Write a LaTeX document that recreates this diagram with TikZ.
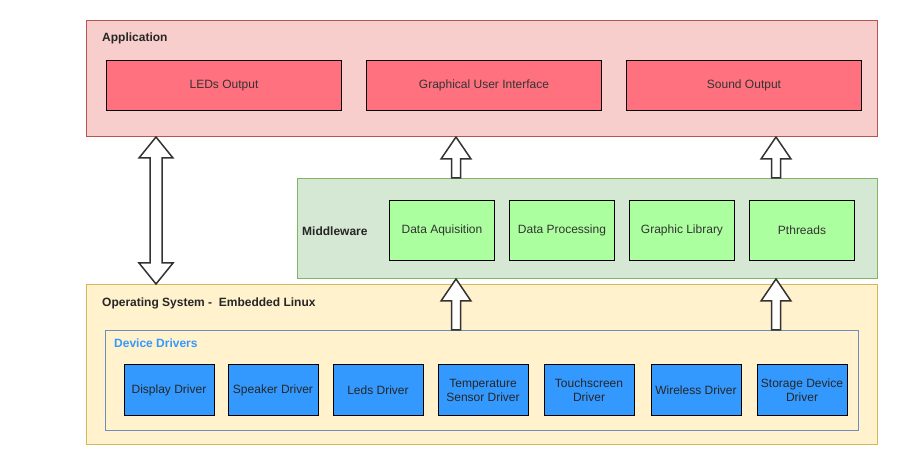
\documentclass[tikz,border=0pt]{standalone}
\usepackage{fontspec}
\setmainfont{Liberation Sans}
\usetikzlibrary{positioning, calc}

\definecolor{AppFill}{HTML}{F8CECC}
\definecolor{AppLine}{HTML}{B85450}
\definecolor{AppBox}{RGB}{255, 113, 127}
\definecolor{MwFill}{HTML}{D5E8D4}
\definecolor{MwLine}{HTML}{82B366}
\definecolor{MwBox}{RGB}{172, 255, 158}
\definecolor{OsFill}{HTML}{FFF2CC}
\definecolor{OsLine}{HTML}{D6B656}
\definecolor{DrvLine}{HTML}{6C8EBF}
\definecolor{DrvBlue}{HTML}{3399FF}
\definecolor{ArrowLine}{HTML}{333333}

% hollow block arrow pointing up, #1 = foot, #2 = tip
\newcommand{\upblock}[2]{%
  \draw[blockarrow] let \p1=(#1), \p2=(#2) in
    ({\x1-4.5pt},\y1) -- ({\x1-4.5pt},{\y2-22pt}) -- ({\x1-15pt},{\y2-22pt}) -- (\x1,\y2)
    -- ({\x1+15pt},{\y2-22pt}) -- ({\x1+4.5pt},{\y2-22pt}) -- ({\x1+4.5pt},\y1) -- cycle;}
% hollow block arrow with two heads, #1 = upper tip, #2 = lower tip
\newcommand{\dblblock}[2]{%
  \draw[blockarrow] let \p1=(#1), \p2=(#2) in
    (\x1,\y1) -- ({\x1+17pt},{\y1-21pt}) -- ({\x1+6pt},{\y1-21pt}) -- ({\x1+6pt},{\y2+21pt})
    -- ({\x1+17pt},{\y2+21pt}) -- (\x1,\y2) -- ({\x1-17pt},{\y2+21pt}) -- ({\x1-6pt},{\y2+21pt})
    -- ({\x1-6pt},{\y1-21pt}) -- ({\x1-17pt},{\y1-21pt}) -- cycle;}

\begin{document}
\begin{tikzpicture}[
    x=1pt, y=-1pt,
    every node/.style={font=\fontsize{12}{14}\selectfont, align=center, inner sep=0pt},
    layer/.style={draw, line width=1pt, anchor=north west},
    title/.style={anchor=west, font=\fontsize{12}{14}\selectfont\bfseries, text=black!85},
    appbox/.style={draw=black, fill=AppBox, line width=1pt, anchor=north west,
                minimum width=235pt, minimum height=50pt, text=black!80},
    mwbox/.style={draw=black, fill=MwBox, line width=1pt, anchor=north west,
                minimum width=105pt, minimum height=60pt, text=black!80},
    drvbox/.style={draw=black, fill=DrvBlue, line width=1pt, outer sep=0pt,
                minimum width=90pt, minimum height=50pt, text=black!85},
    blockarrow/.style={draw=ArrowLine, fill=white, line width=1.5pt, line join=miter}
]
\useasboundingbox[fill=white] (0,0) rectangle (898,465);

% layers
\node[layer, draw=AppLine, fill=AppFill, minimum width=791pt, minimum height=116pt] (app) at (86,20) {};
\node[layer, draw=MwLine, fill=MwFill, minimum width=580pt, minimum height=100pt] (mw) at (297,178) {};
\node[layer, draw=OsLine, fill=OsFill, minimum width=791pt, minimum height=160pt] (os) at (86,284) {};
\node[layer, draw=DrvLine, minimum width=753pt, minimum height=100pt] (dd) at (105,330) {};

\node[title] (apptitle) at (102,38) {Application};
\node[title] (mwtitle) at (302,231) {Middleware};
\node[title] (ostitle) at (102,303) {Operating System -~~Embedded Linux};
\node[title, text=DrvBlue] (ddtitle) at (114,343) {Device Drivers};

% application
\node[appbox] (leds) at (106,60) {LEDs Output};
\node[appbox] (gui) at (366,60) {Graphical User Interface};
\node[appbox] (sound) at (626,60) {Sound Output};

% middleware
\node[mwbox] (daq) at (389,200) {Data Aquisition};
\node[mwbox] (dproc) at (509,200) {Data Processing};
\node[mwbox] (glib) at (629,200) {Graphic Library};
\node[mwbox] (pthr) at (749,200) {Pthreads};

% drivers
\node[drvbox] (disp) at (169,390) {Display Driver};
\node[drvbox, right=14pt of disp] (spk) {Speaker Driver};
\node[drvbox, right=15pt of spk] (ledd) {Leds Driver};
\node[drvbox, right=15pt of ledd] (temp) {Temperature\\Sensor Driver};
\node[drvbox, right=16pt of temp] (touch) {Touchscreen\\Driver};
\node[drvbox, right=17pt of touch] (wifi) {Wireless Driver};
\node[drvbox, right=16pt of wifi] (stor) {Storage Device\\Driver};

% arrows
\coordinate (xl) at (156,0);
\coordinate (xm) at (456,0);
\coordinate (xr) at (776,0);
\dblblock{app.south -| xl}{os.north -| xl}
\upblock{mw.north -| xm}{app.south -| xm}
\upblock{mw.north -| xr}{app.south -| xr}
\upblock{dd.north -| xm}{mw.south -| xm}
\upblock{dd.north -| xr}{mw.south -| xr}
\end{tikzpicture}
\end{document}
